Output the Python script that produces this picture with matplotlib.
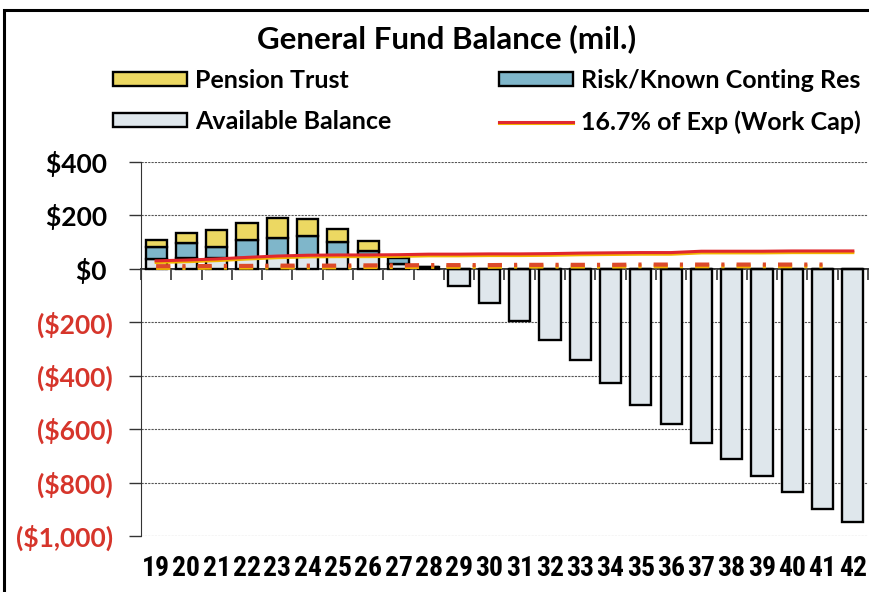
import numpy as np
import matplotlib
matplotlib.use("Agg")
import matplotlib.pyplot as plt
import matplotlib.patheffects as pe
from matplotlib import font_manager as fm
from matplotlib.textpath import TextPath
from matplotlib.patches import Rectangle

years = ['19', '20', '21', '22', '23', '24', '25', '26', '27', '28', '29', '30',
         '31', '32', '33', '34', '35', '36', '37', '38', '39', '40', '41', '42']
available = [38, 40, 40, 42, 45, 47, 48, 53, 18, 8, -64, -128, -197, -265, -341,
             -428, -508, -581, -650, -713, -775, -837, -898, -948]
risk = [42, 55, 42, 66, 72, 76, 54, 14, 22] + [0] * 15
pension = [28, 40, 63, 65, 75, 65, 49, 38] + [0] * 16
work_cap = [30, 33, 37, 43, 48, 51, 52, 52, 53, 55, 55, 56, 56, 57, 59, 60, 61, 61,
            66, 66, 66, 67, 67, 67]
# dash-dot line (no legend entry), years 19..41
min_line = [10, 10, 11, 11, 12, 12, 12, 13, 13, 14, 14, 14, 15, 15, 15, 15, 16, 16,
            16, 16, 16, 16, 16]
yticks = [400, 200, 0, -200, -400, -600, -800, -1000]

main_font = ['Lato', 'DejaVu Sans']


def weight_num(wt):
    if isinstance(wt, str):
        return fm.weight_dict.get(wt, 400)
    return wt


def narrow_bold():
    # look for an installed narrow / condensed bold face for the year labels
    prefs = ['Liberation Sans Narrow', 'Arial Narrow', 'Roboto Condensed',
             'DejaVu Sans Condensed', 'Noto Sans Condensed', 'Open Sans Condensed']
    cands = []
    for e in fm.fontManager.ttflist:
        nm = e.name + ' ' + e.fname
        narrow = ('Narrow' in nm or 'Condensed' in nm or
                  e.stretch in ('condensed', 'semi-condensed', 'extra-condensed'))
        if narrow and e.style == 'normal' and weight_num(e.weight) >= 600:
            cands.append(e)
    for p in prefs:
        for e in cands:
            if p.split()[0] in e.name and ('Narrow' in e.fname or 'Condensed' in e.fname
                                           or 'Narrow' in e.name or 'Condensed' in e.name):
                return fm.FontProperties(fname=e.fname)
    if cands:
        return fm.FontProperties(fname=cands[0].fname)
    return fm.FontProperties(family='Lato', weight='bold')


xfp = narrow_bold()
wpx = TextPath((0, 0), '42', size=20, prop=xfp).get_extents().width * 100 / 72
xsize = min(20, 20 * 26.0 / wpx)
xfp.set_size(xsize)

fig = plt.figure(figsize=(8.7, 5.92), dpi=100)
ax = fig.add_axes([141 / 870, 1 - 536 / 592, 727 / 870, 374 / 592])

x = np.arange(len(years))
avail = np.array(available)
rsk = np.array(risk)
pen = np.array(pension)
base = np.clip(avail, 0, None)
w = 0.7
b_av = ax.bar(x, avail, w, color='#dfe7ec', edgecolor='black', linewidth=1.7, zorder=3)
b_rk = ax.bar(x, rsk, w, bottom=base, color='#7fb6ca', edgecolor='black',
              linewidth=1.7, zorder=3)
mask = pen > 0
b_pn = ax.bar(x[mask], pen[mask], w, bottom=(base + rsk)[mask],
              color='#ecd862', edgecolor='black', linewidth=1.7, zorder=3)

yellow_edge = [pe.SimpleLineShadow(offset=(0, -1.2), shadow_color='#f2b400', alpha=1),
               pe.Normal()]
ln, = ax.plot(x, work_cap, color='#e0282e', linewidth=2.2, zorder=5,
              path_effects=yellow_edge)
ax.plot(x[:len(min_line)], min_line, color='#dd4a2a', linewidth=3,
        linestyle=(0, (3.4, 2.9, 0.75, 2.9)), zorder=4, path_effects=yellow_edge)

ax.set_xlim(-0.5, len(years) - 0.5)
ax.set_ylim(-1000, 400)

# grid
ax.set_yticks(yticks)
ax.yaxis.grid(True, color='#555555', linewidth=0.8, linestyle=(0, (2, 1)), zorder=0)
ax.set_axisbelow(True)

labels = []
for v in yticks:
    if v < 0:
        labels.append('(${:,})'.format(-v))
    else:
        labels.append('${:,} '.format(v))
ax.set_yticklabels(labels, fontsize=19, fontweight='bold', family=main_font)
for t, v in zip(ax.get_yticklabels(), yticks):
    if v < 0:
        t.set_color('#d6352b')
ax.tick_params(axis='y', length=9, width=1, pad=11, color='#333333')

ax.set_xticks(x)
ax.set_xticklabels(years, fontproperties=xfp)
ax.tick_params(axis='x', length=0, pad=14)

for s in ['top', 'right', 'bottom']:
    ax.spines[s].set_visible(False)
ax.spines['left'].set_color('#333333')

# zero axis with category boundary ticks
zero_ax = ax.secondary_xaxis(1000 / 1400)
zero_ax.set_xticks(np.arange(len(years) + 1) - 0.5)
zero_ax.tick_params(direction='in', length=8, width=1.2, labeltop=False, labelbottom=False,
                    color='#333333')
for s in ['top', 'bottom']:
    zero_ax.spines[s].set_color('#333333')
    zero_ax.spines[s].set_linewidth(1.4)

fig.text(447 / 870, 1 - 39 / 592, 'General Fund Balance (mil.)', ha='center', va='center',
         fontsize=22.5, fontweight='bold', family=main_font)

fig.legend([b_pn, b_av, b_rk, ln],
           ['Pension Trust', 'Available Balance', 'Risk/Known Conting Res',
            '16.7% of Exp (Work Cap)'],
           ncol=2, loc='upper left', bbox_to_anchor=(113 / 870, 1 - 69 / 592),
           frameon=False, borderpad=0, borderaxespad=0,
           prop={'family': main_font, 'weight': 'bold', 'size': 18},
           handlelength=2.96, handleheight=0.52, handletextpad=0.32,
           labelspacing=0.72, columnspacing=4.3)

fig.add_artist(Rectangle((4 / 870, -0.1), 2, 1.1 - 10 / 592, transform=fig.transFigure,
                         fill=False, edgecolor='black', linewidth=2.2))

fig.savefig('out.png', dpi=100)
